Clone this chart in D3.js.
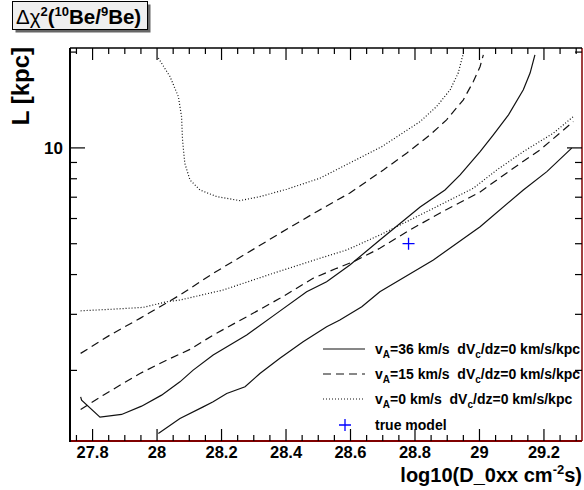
<!DOCTYPE html>
<html>
<head>
  <style>
    body {
      margin: 0;
      background: white;
    }
    text {
      font-family: "Liberation Sans", Arial, sans-serif;
    }
  </style>
</head>
<body>
  <div id="chart"></div>

  <script src="https://d3js.org/d3.v7.min.js"></script>
  <script>
  // contour lines, [log10(D_0xx), L in kpc]
  var solidUpper = [[27.763,1.652],[27.766,1.613],[27.823,1.426],[27.890,1.454],[27.952,1.544],[28.014,1.672],
    [28.071,1.841],[28.112,2.004],[28.174,2.234],[28.278,2.582],[28.371,3.021],[28.464,3.533],[28.526,3.798],
    [28.598,4.287],[28.691,5.137],[28.816,6.524],[28.893,7.378],[28.940,8.224],[29.002,9.736],[29.043,10.99],
    [29.090,12.70],[29.136,15.22],[29.157,17.18],[29.172,19.61]];
  var solidLower = [[28.004,1.267],[28.071,1.413],[28.143,1.536],[28.174,1.593],[28.216,1.693],[28.273,1.776],
    [28.319,1.956],[28.381,2.182],[28.453,2.460],[28.526,2.742],[28.567,2.879],[28.635,3.170],[28.691,3.533],
    [28.857,4.445],[29.002,5.655],[29.136,7.378],[29.209,8.424],[29.286,9.98]];
  var dashedUpper = [[27.763,2.262],[27.854,2.582],[27.947,2.914],[28.009,3.170],[28.071,3.450],[28.174,4.036],
    [28.278,4.665],[28.381,5.392],[28.495,6.305],[28.598,7.220],[28.702,8.527],[28.774,9.623],[28.847,10.99],
    [28.898,12.25],[28.950,14.16],[28.981,16.16],[29.002,18.02],[29.012,19.61]];
  var dashedLower = [[27.763,1.508],[27.833,1.672],[27.947,1.956],[28.030,2.154],[28.102,2.328],[28.174,2.582],
    [28.278,2.948],[28.381,3.368],[28.484,3.893],[28.557,4.185],[28.609,4.390],[28.691,4.837],[28.784,5.522],
    [28.878,6.246],[29.002,7.272],[29.105,8.634],[29.188,9.856],[29.291,12.10]];
  var dottedUpper = [[28.004,19.15],[28.040,16.76],[28.066,14.50],[28.076,12.54],[28.079,10.60],[28.086,8.952],
    [28.102,7.932],[28.133,7.378],[28.185,7.030],[28.257,6.829],[28.319,7.030],[28.402,7.415],[28.505,8.030],
    [28.598,8.971],[28.697,10.09],[28.753,10.99],[28.816,12.10],[28.867,13.49],[28.909,15.22],[28.934,17.18],
    [28.950,19.85]];
  var dottedLower = [[27.763,3.078],[27.854,3.110],[27.957,3.155],[28.030,3.286],[28.071,3.327],[28.205,3.577],
    [28.360,4.036],[28.505,4.500],[28.588,4.778],[28.691,5.325],[28.847,6.383],[28.981,7.470],[29.054,8.527],
    [29.136,9.736],[29.229,11.12],[29.291,12.54]];

  var trueModel = [28.78, 5.0];

  // axis ticks
  var xTickValues = [27.8, 28.0, 28.2, 28.4, 28.6, 28.8, 29.0, 29.2];
  var xTickLabels = ["27.8", "28", "28.2", "28.4", "28.6", "28.8", "29", "29.2"];
  var yTickValues = [10];
  var yTickLabels = ["10"];
  var yMinorTicks = [2, 3, 4, 5, 6, 7, 8, 9, 20];

  // legend
  var legendSpeeds = ["36", "15", "0"];
  var legendDash = [null, "8,5", "1,2"];
  var legendMarker = "true model";

  var width = 584, height = 490;
  var margin = {top: 48, right: 2, bottom: 49, left: 70};

  var svg = d3.select("#chart")
    .append("svg")
      .attr("width", width)
      .attr("height", height);

  var x = d3.scaleLinear()
    .domain([27.73, 29.318])
    .range([margin.left, width - margin.right]);
  var y = d3.scaleLog()
    .domain([1.2, 20.6])
    .range([height - margin.bottom, margin.top]);

  var x0 = x.range()[0], x1 = x.range()[1], y0 = y.range()[0], y1 = y.range()[1];

  // curves
  var line = d3.line()
    .x(function(d) { return x(d[0]); })
    .y(function(d) { return y(d[1]); });

  var curves = [
    {data: solidUpper, dash: null},
    {data: solidLower, dash: null},
    {data: dashedUpper, dash: "8,5"},
    {data: dashedLower, dash: "8,5"},
    {data: dottedUpper, dash: "1,2"},
    {data: dottedLower, dash: "1,2"}
  ];

  svg.selectAll(".curve")
    .data(curves)
    .enter().append("path")
      .attr("class", "curve")
      .attr("d", function(d) { return line(d.data); })
      .attr("fill", "none")
      .attr("stroke", "#111")
      .attr("stroke-width", 1.2)
      .attr("stroke-dasharray", function(d) { return d.dash; });

  // true model marker
  function plus(g, cx, cy, r) {
    g.append("path")
      .attr("d", "M" + (cx - r) + "," + cy + "H" + (cx + r) + "M" + cx + "," + (cy - r) + "V" + (cy + r))
      .attr("stroke", "#0000ff")
      .attr("stroke-width", 1.3)
      .attr("fill", "none");
  }
  plus(svg, x(trueModel[0]), y(trueModel[1]), 6);

  // frame
  svg.append("line").attr("x1", x0).attr("x2", x1).attr("y1", y0).attr("y2", y0)
    .attr("stroke", "#800000").attr("stroke-width", 2);
  svg.append("line").attr("x1", x1).attr("x2", x1).attr("y1", y0).attr("y2", y1)
    .attr("stroke", "#800000").attr("stroke-width", 1.5);
  svg.append("line").attr("x1", x0).attr("x2", x1).attr("y1", y1).attr("y2", y1)
    .attr("stroke", "black").attr("stroke-width", 1.5);
  svg.append("line").attr("x1", x0).attr("x2", x0).attr("y1", y0 + 1).attr("y2", y1)
    .attr("stroke", "black").attr("stroke-width", 2);

  // x ticks, bottom and top
  var xMinor = d3.range(27.75, 29.32, 0.05).filter(function(v) {
    return !xTickValues.some(function(t) { return Math.abs(t - v) < 1e-6; });
  });
  var ticks = svg.append("g").attr("stroke", "black").attr("stroke-width", 1.2);
  xTickValues.forEach(function(v) {
    ticks.append("line").attr("x1", x(v)).attr("x2", x(v)).attr("y1", y0).attr("y2", y0 - 12);
    ticks.append("line").attr("x1", x(v)).attr("x2", x(v)).attr("y1", y1).attr("y2", y1 + 12);
  });
  xMinor.forEach(function(v) {
    ticks.append("line").attr("x1", x(v)).attr("x2", x(v)).attr("y1", y0).attr("y2", y0 - 6);
    ticks.append("line").attr("x1", x(v)).attr("x2", x(v)).attr("y1", y1).attr("y2", y1 + 6);
  });
  // y ticks, left and right
  yTickValues.forEach(function(v) {
    ticks.append("line").attr("x1", x0).attr("x2", x0 + 15).attr("y1", y(v)).attr("y2", y(v));
    ticks.append("line").attr("x1", x1).attr("x2", x1 - 15).attr("y1", y(v)).attr("y2", y(v));
  });
  yMinorTicks.forEach(function(v) {
    ticks.append("line").attr("x1", x0).attr("x2", x0 + 7).attr("y1", y(v)).attr("y2", y(v));
    ticks.append("line").attr("x1", x1).attr("x2", x1 - 7).attr("y1", y(v)).attr("y2", y(v));
  });

  // tick labels
  svg.selectAll(".xlab")
    .data(xTickValues)
    .enter().append("text")
      .attr("class", "xlab")
      .attr("x", function(d) { return x(d); })
      .attr("y", 458)
      .attr("text-anchor", "middle")
      .attr("font-size", 16.5)
      .attr("font-weight", "bold")
      .text(function(d, i) { return xTickLabels[i]; });

  svg.selectAll(".ylab")
    .data(yTickValues)
    .enter().append("text")
      .attr("class", "ylab")
      .attr("x", 63)
      .attr("y", function(d) { return y(d) + 6; })
      .attr("text-anchor", "end")
      .attr("font-size", 17)
      .attr("font-weight", "bold")
      .text(function(d, i) { return yTickLabels[i]; });

  // axis titles
  var xt = svg.append("text")
    .attr("x", 582)
    .attr("y", 482)
    .attr("text-anchor", "end")
    .attr("font-size", 20)
    .attr("font-weight", "bold");
  xt.append("tspan").text("log10(D_0xx cm");
  xt.append("tspan").attr("dy", -8).attr("font-size", 13).text("-2");
  xt.append("tspan").attr("dy", 8).text("s)");

  svg.append("text")
    .attr("transform", "translate(29,47) rotate(-90)")
    .attr("text-anchor", "end")
    .attr("font-size", 24)
    .attr("font-weight", "bold")
    .text("L [kpc]");

  // title box with shadow
  svg.append("rect")
    .attr("x", 15.5).attr("y", 4.5).attr("width", 135).attr("height", 28)
    .attr("fill", "#666");
  svg.append("rect")
    .attr("x", 12.5).attr("y", 1.5).attr("width", 135).attr("height", 28)
    .attr("fill", "#efefef").attr("stroke", "black").attr("stroke-width", 1);
  var tt = svg.append("text")
    .attr("x", 16)
    .attr("y", 24)
    .attr("font-size", 20.5)
    .attr("font-weight", "bold");
  tt.append("tspan").attr("font-weight", "normal").text("Δχ");
  tt.append("tspan").attr("dy", -8).attr("font-size", 13).text("2");
  tt.append("tspan").attr("dy", 8).text("(");
  tt.append("tspan").attr("dy", -8).attr("font-size", 13).text("10");
  tt.append("tspan").attr("dy", 8).text("Be/");
  tt.append("tspan").attr("dy", -8).attr("font-size", 13).text("9");
  tt.append("tspan").attr("dy", 8).text("Be)");

  // legend
  var legend = svg.append("g");
  legendSpeeds.forEach(function(s, i) {
    var ly = 349 + i * 25;
    legend.append("line")
      .attr("x1", 323).attr("x2", 365).attr("y1", ly).attr("y2", ly)
      .attr("stroke", "#111").attr("stroke-width", 1.2)
      .attr("stroke-dasharray", legendDash[i]);
    var t = legend.append("text")
      .attr("x", 375)
      .attr("y", ly + 5)
      .attr("font-size", 14)
      .attr("font-weight", "bold")
      .style("white-space", "pre");
    t.append("tspan").text("v");
    t.append("tspan").attr("dy", 4).attr("font-size", 10).text("A");
    t.append("tspan").attr("dy", -4).text("=" + s + " km/s  dV");
    t.append("tspan").attr("dy", 4).attr("font-size", 10).text("c");
    t.append("tspan").attr("dy", -4).text("/dz=0 km/s/kpc");
  });
  plus(legend, 345, 425, 6);
  legend.append("text")
    .attr("x", 375)
    .attr("y", 430)
    .attr("font-size", 14)
    .attr("font-weight", "bold")
    .text(legendMarker);
  </script>
</body>
</html>
